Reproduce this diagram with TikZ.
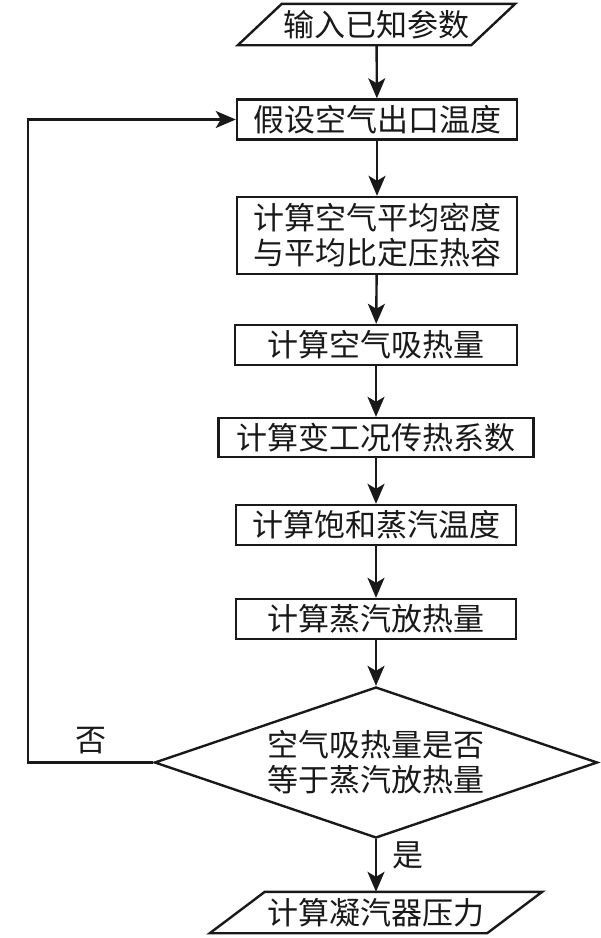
\documentclass[tikz,border=0pt]{standalone}
\usepackage{fontspec}
\setmainfont{Noto Sans CJK SC}
\usetikzlibrary{arrows.meta, positioning, shapes.geometric}
\definecolor{mainBlack}{gray}{0.1}

\begin{document}
\begin{tikzpicture}[x=1pt, y=-1pt, >={Stealth[length=20pt, width=17pt, inset=5pt]},
    every node/.style={font=\fontsize{31}{35}\selectfont, text=mainBlack},
    procbox/.style={draw=mainBlack, line width=2.4pt, rectangle, minimum width=280pt, minimum height=40pt, inner sep=0pt, align=center},
    iobox/.style={rectangle, inner sep=0pt, minimum height=41pt}]
    \useasboundingbox (0,0) rectangle (601,938);

    % 输入输出
    \node[iobox, minimum width=277pt] (in) at (376.5, 24.5) {输入已知参数};
    \node[iobox, minimum width=332pt] (out) at (376, 912.5) {计算凝汽器压力};
    \draw[line width=2.4pt, mainBlack] ([xshift=44pt]in.north west) -- (in.north east) -- ([xshift=-44pt]in.south east) -- (in.south west) -- cycle;
    \draw[line width=2.4pt, mainBlack] ([xshift=55pt]out.north west) -- (out.north east) -- ([xshift=-55pt]out.south east) -- (out.south west) -- cycle;

    % 计算步骤
    \node[procbox] (b1) at (377, 119.5) {假设空气出口温度};
    \node[procbox, minimum height=77pt] (b2) at (377, 235.5) {计算空气平均密度\\与平均比定压热容};
    \node[procbox, minimum width=282pt] (b3) at (376, 345) {计算空气吸热量};
    \node[procbox, minimum width=315pt, minimum height=39pt] (b4) at (376, 437.5) {计算变工况传热系数};
    \node[procbox] (b5) at (376, 525) {计算饱和蒸汽温度};
    \node[procbox] (b6) at (376, 619) {计算蒸汽放热量};
    \node[diamond, draw=mainBlack, line width=2.4pt, inner sep=0pt, shape aspect=2.93,
          minimum width=443pt, minimum height=151pt, align=center] (chk) at (376, 762.5)
          {空气吸热量是否\\等于蒸汽放热量};
    \coordinate (turn) at (28, 762.5);

    \draw[->, line width=2.4pt, mainBlack] (in) -- (b1);
    \draw[->, line width=2.4pt, mainBlack] (b1) -- (b2);
    \draw[->, line width=2.4pt, mainBlack] (b2) -- (b3);
    \draw[->, line width=2.4pt, mainBlack] (b3) -- (b4);
    \draw[->, line width=2.4pt, mainBlack] (b4) -- (b5);
    \draw[->, line width=2.4pt, mainBlack] (b5) -- (b6);
    \draw[->, line width=2.4pt, mainBlack] (b6) -- (chk);
    \draw[->, line width=2.4pt, mainBlack] (chk) -- (out) node[pos=0.3, right=12pt] {是};
    \draw[->, line width=2.4pt, mainBlack] (chk.west) -- (turn) node[midway, above=4pt] {否} |- (b1.west);
\end{tikzpicture}
\end{document}
